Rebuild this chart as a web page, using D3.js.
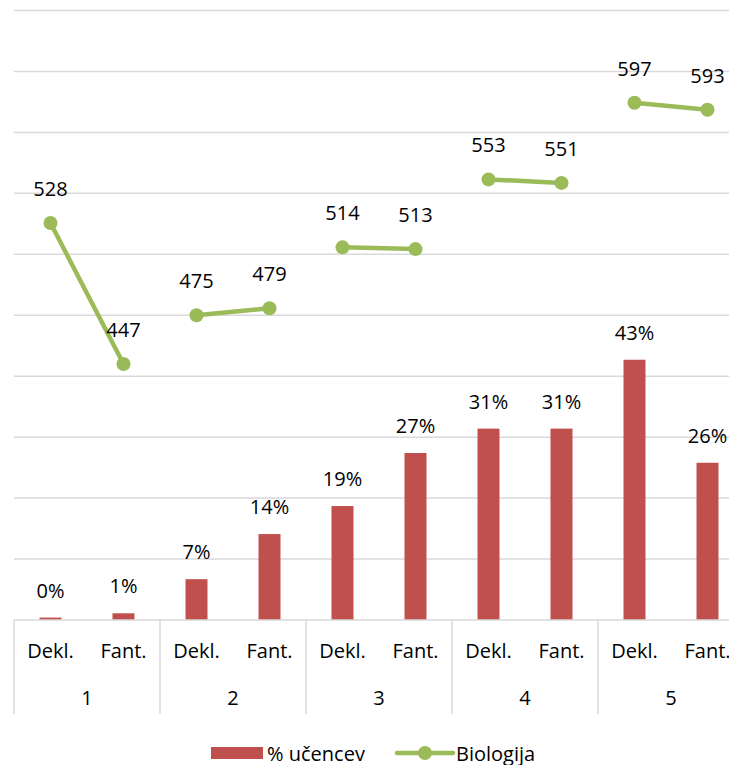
<!DOCTYPE html>
<html>
<head>
<meta charset="utf-8">
<script src="https://cdn.jsdelivr.net/npm/d3@7"></script>
<style>
  body { margin: 0; background: #fff; }
  text { font-family: "Open Sans", sans-serif; fill: #000; }
</style>
</head>
<body>
<div id="chart"></div>
<script>
// data
var groups = ["1", "2", "3", "4", "5"];
var subCats = ["Dekl.", "Fant."];
var pctValues = [0.4, 1.1, 6.7, 14.1, 18.7, 27.4, 31.4, 31.4, 42.7, 25.8];
var pctLabels = ["0%", "1%", "7%", "14%", "19%", "27%", "31%", "31%", "43%", "26%"];
var bioValues = [528, 447, 475, 479, 514, 513, 553, 551, 597, 593];
var pctTicks = [0, 10, 20, 30, 40, 50, 60, 70, 80, 90, 100];

var width = 729, height = 765;
var plotLeft = 14, plotRight = 744, plotTop = 10.5, plotBottom = 620;
var barColor = "#C0504D", lineColor = "#9BBB59";
var fontSize = "20px";

var rows = [];
groups.forEach(function (g, gi) {
    subCats.forEach(function (s, si) {
        var i = gi * subCats.length + si;
        rows.push({ key: g + "-" + s, group: g, sub: s, pct: pctValues[i], pctLabel: pctLabels[i], bio: bioValues[i] });
    });
});

var svg = d3.select("#chart").append("svg")
    .attr("width", width)
    .attr("height", height);

var x = d3.scaleBand().domain(rows.map(d => d.key)).range([plotLeft, plotRight]).padding(0);
var xGroup = d3.scaleBand().domain(groups).range([plotLeft, plotRight]).padding(0);
var y = d3.scaleLinear().domain([0, 100]).range([plotBottom, plotTop]);
var y2 = d3.scaleLinear().domain([300, 650]).range([plotBottom, plotTop]);
var cx = d => x(d.key) + x.bandwidth() / 2;

// gridlines
svg.append("g")
    .selectAll("line")
    .data(pctTicks.slice(1))
    .enter().append("line")
    .attr("x1", plotLeft).attr("x2", width)
    .attr("y1", d => y(d)).attr("y2", d => y(d))
    .attr("stroke", "#d9d9d9")
    .attr("stroke-width", 1.5);

// bars
var barW = 22;
svg.append("g")
    .selectAll("rect")
    .data(rows)
    .enter().append("rect")
    .attr("x", d => cx(d) - barW / 2)
    .attr("width", barW)
    .attr("y", d => y(d.pct))
    .attr("height", d => plotBottom - y(d.pct))
    .attr("fill", barColor);

svg.append("g")
    .selectAll("text")
    .data(rows)
    .enter().append("text")
    .attr("x", cx)
    .attr("y", d => y(d.pct) - 20)
    .attr("text-anchor", "middle")
    .style("font-size", fontSize)
    .text(d => d.pctLabel);

// x axis
svg.append("line")
    .attr("x1", plotLeft).attr("x2", width)
    .attr("y1", plotBottom).attr("y2", plotBottom)
    .attr("stroke", "#d9d9d9").attr("stroke-width", 1.5);

svg.append("g")
    .selectAll("line")
    .data(groups)
    .enter().append("line")
    .attr("x1", d => xGroup(d)).attr("x2", d => xGroup(d))
    .attr("y1", plotBottom).attr("y2", 714)
    .attr("stroke", "#d9d9d9").attr("stroke-width", 1.5);

svg.append("g")
    .selectAll("text")
    .data(rows)
    .enter().append("text")
    .attr("x", cx)
    .attr("y", 658)
    .attr("text-anchor", "middle")
    .style("font-size", fontSize)
    .text(d => d.sub);

svg.append("g")
    .selectAll("text")
    .data(groups)
    .enter().append("text")
    .attr("x", d => xGroup(d) + xGroup.bandwidth() / 2)
    .attr("y", 705)
    .attr("text-anchor", "middle")
    .style("font-size", fontSize)
    .text(d => d);

// line series, broken between groups
var line = d3.line()
    .x(cx)
    .y(d => y2(d.bio));

var lines = svg.append("g");
groups.forEach(function (g) {
    var seg = rows.filter(d => d.group === g);
    lines.append("path")
        .attr("d", line(seg))
        .attr("fill", "none")
        .attr("stroke", lineColor)
        .attr("stroke-width", 4.5)
        .attr("stroke-linecap", "round");
});

lines.selectAll("circle")
    .data(rows)
    .enter().append("circle")
    .attr("cx", cx)
    .attr("cy", d => y2(d.bio))
    .attr("r", 7)
    .attr("fill", lineColor);

lines.selectAll("text")
    .data(rows)
    .enter().append("text")
    .attr("x", cx)
    .attr("y", d => y2(d.bio) - 27)
    .attr("text-anchor", "middle")
    .style("font-size", fontSize)
    .text(d => d.bio);

// legend
var legend = svg.append("g");
legend.append("rect")
    .attr("x", 211).attr("y", 747)
    .attr("width", 52).attr("height", 12)
    .attr("fill", barColor);
legend.append("text")
    .attr("x", 267).attr("y", 761)
    .style("font-size", fontSize)
    .text("% učencev");
legend.append("line")
    .attr("x1", 397).attr("x2", 453)
    .attr("y1", 753).attr("y2", 753)
    .attr("stroke", lineColor).attr("stroke-width", 4.5)
    .attr("stroke-linecap", "round");
legend.append("circle")
    .attr("cx", 425).attr("cy", 753).attr("r", 7)
    .attr("fill", lineColor);
legend.append("text")
    .attr("x", 456).attr("y", 761)
    .style("font-size", fontSize)
    .text("Biologija");
</script>
</body>
</html>
